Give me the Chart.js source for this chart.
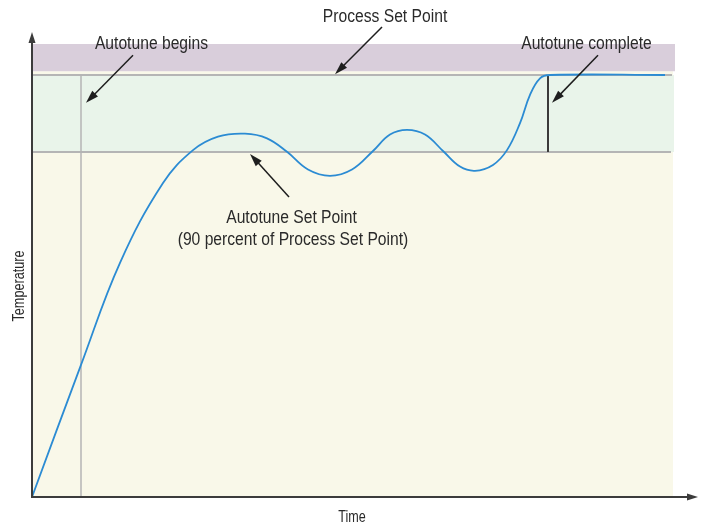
<!DOCTYPE html>
<html>
<head>
<meta charset="utf-8">
<script src="https://cdn.jsdelivr.net/npm/chart.js@4"></script>
<style>
  html, body { margin: 0; padding: 0; background: #ffffff; }
  #wrap { width: 701px; height: 523px; }
</style>
</head>
<body>
<div id="wrap"><canvas id="c" width="701" height="523"></canvas></div>
<script>
// ---- data (time units / temperature as % of process set point) ----
const curveTime = [0, 49, 88, 131, 161, 186, 213, 235, 255, 276, 298, 320, 341, 358, 375, 393, 411, 428, 443, 461, 475, 488, 498, 508, 518, 633];
const curveTemp = [0, 31.3, 55.5, 74.4, 82.2, 85.4, 86.1, 85.0, 81.8, 77.6, 76.1, 77.6, 82.0, 85.9, 87.0, 85.9, 82.0, 78.3, 77.3, 78.7, 82.2, 88.6, 95.3, 99.2, 100, 100];
const processSetPoint = 100;
const autotuneSetPoint = 81.75;
const autotuneBeginTime = 49;
const autotuneCompleteTime = 516;
const timeMax = 641;
const tempMax = 107.35;
const upperBandTop = 107.35;
const upperBandBottom = 100.9;

const labelTexts = ["Process Set Point", "Autotune begins", "Autotune complete", "Autotune Set Point", "(90 percent of Process Set Point)"];
const axisTitles = ["Time", "Temperature"];
// arrows: [tailTime, tailTemp, tipTime, tipTemp]
const arrowSpecs = [
  [350, 111.4, 303, 100.2],
  [101, 104.7, 54, 93.4],
  [566, 104.7, 520, 93.4],
  [257, 71.1, 218, 81.3]
];
// label anchors: [time, temp]
const labelAnchors = [
  [353, 112.6],
  [119.5, 106.1],
  [554.5, 106.1],
  [259.5, 64.9],
  [261, 59.7]
];

const FONT = "'Liberation Sans', Arial, sans-serif";

const curvePts = curveTime.map((t, i) => ({ x: t, y: curveTemp[i] }));

function drawArrowHead(ctx, x1, y1, x2, y2, len, half) {
  const a = Math.atan2(y2 - y1, x2 - x1);
  ctx.beginPath();
  ctx.moveTo(x2, y2);
  ctx.lineTo(x2 - len * Math.cos(a) + half * Math.sin(a), y2 - len * Math.sin(a) - half * Math.cos(a));
  ctx.lineTo(x2 - len * Math.cos(a) - half * Math.sin(a), y2 - len * Math.sin(a) + half * Math.cos(a));
  ctx.closePath();
  ctx.fill();
}

function narrowText(ctx, text, x, y, squeeze) {
  ctx.save();
  ctx.translate(x, y);
  ctx.scale(squeeze, 1);
  ctx.fillText(text, 0, 0);
  ctx.restore();
}

const decor = {
  id: 'decor',
  beforeDatasetsDraw(chart) {
    const { ctx } = chart;
    const xs = chart.scales.x, ys = chart.scales.y;
    const X = v => xs.getPixelForValue(v), Y = v => ys.getPixelForValue(v);
    ctx.save();
    ctx.fillStyle = '#f9f8e9';
    ctx.fillRect(X(0), Y(upperBandBottom), X(timeMax) - X(0), Y(0) - Y(upperBandBottom));
    ctx.fillStyle = '#d9cedb';
    ctx.fillRect(X(0) + 1, Y(upperBandTop), X(timeMax) + 2 - X(0) - 1, Y(upperBandBottom) - Y(upperBandTop));
    ctx.fillStyle = '#e9f4ea';
    ctx.fillRect(X(0), Y(processSetPoint), X(timeMax) + 1 - X(0), Y(autotuneSetPoint) - Y(processSetPoint));
    ctx.restore();
  },
  afterDatasetsDraw(chart) {
    const { ctx } = chart;
    const xs = chart.scales.x, ys = chart.scales.y;
    const X = v => xs.getPixelForValue(v), Y = v => ys.getPixelForValue(v);
    ctx.save();
    ctx.strokeStyle = '#3c3c3c';
    ctx.fillStyle = '#3c3c3c';
    ctx.lineWidth = 2;
    const ox = X(0), oy = Y(0);
    ctx.beginPath();
    ctx.moveTo(ox, oy + 1);
    ctx.lineTo(ox, 40);
    ctx.stroke();
    drawArrowHead(ctx, ox, oy, ox, 32, 11, 3.5);
    ctx.beginPath();
    ctx.moveTo(ox - 1, oy);
    ctx.lineTo(690, oy);
    ctx.stroke();
    drawArrowHead(ctx, ox, oy, 698, oy, 11, 3.5);

    ctx.strokeStyle = '#1e1e1e';
    ctx.fillStyle = '#1e1e1e';
    ctx.lineWidth = 1.5;
    arrowSpecs.forEach(a => {
      const x1 = X(a[0]), y1 = Y(a[1]), x2 = X(a[2]), y2 = Y(a[3]);
      const ang = Math.atan2(y2 - y1, x2 - x1);
      ctx.beginPath();
      ctx.moveTo(x1, y1);
      ctx.lineTo(x2 - 8 * Math.cos(ang), y2 - 8 * Math.sin(ang));
      ctx.stroke();
      drawArrowHead(ctx, x1, y1, x2, y2, 13, 4);
    });

    ctx.fillStyle = '#2a2a2a';
    ctx.font = '18px ' + FONT;
    ctx.textAlign = 'center';
    ctx.textBaseline = 'alphabetic';
    labelTexts.forEach((t, i) => {
      narrowText(ctx, t, X(labelAnchors[i][0]), Y(labelAnchors[i][1]), 0.87);
    });

    ctx.font = '17px ' + FONT;
    narrowText(ctx, axisTitles[0], 352, 521.5, 0.74);
    ctx.font = '16px ' + FONT;
    ctx.save();
    ctx.translate(24, 286);
    ctx.rotate(-Math.PI / 2);
    narrowText(ctx, axisTitles[1], 0, 0, 0.79);
    ctx.restore();
    ctx.restore();
  }
};

new Chart(document.getElementById('c'), {
  type: 'line',
  data: {
    datasets: [
      {
        data: curvePts,
        borderColor: '#2b8bd3',
        borderWidth: 1.8,
        pointRadius: 0,
        tension: 0.4,
        fill: false
      },
      {
        data: [{ x: autotuneCompleteTime, y: autotuneSetPoint }, { x: autotuneCompleteTime, y: processSetPoint }],
        borderColor: '#3a3a3a', borderWidth: 2, pointRadius: 0, fill: false
      },
      {
        data: [{ x: autotuneBeginTime, y: 0 }, { x: autotuneBeginTime, y: processSetPoint }],
        borderColor: '#b5b5b5', borderWidth: 1.5, pointRadius: 0, fill: false
      },
      {
        data: [{ x: 0, y: processSetPoint }, { x: 640, y: processSetPoint }],
        borderColor: '#b5b5b5', borderWidth: 2, pointRadius: 0, fill: false
      },
      {
        data: [{ x: 0, y: autotuneSetPoint }, { x: 639, y: autotuneSetPoint }],
        borderColor: '#b5b5b5', borderWidth: 2, pointRadius: 0, fill: false
      }
    ]
  },
  options: {
    responsive: false,
    animation: false,
    devicePixelRatio: 1,
    layout: { padding: { left: 32, right: 28, top: 44, bottom: 26 } },
    plugins: { legend: { display: false }, tooltip: { enabled: false } },
    scales: {
      x: { type: 'linear', min: 0, max: timeMax, display: false },
      y: { type: 'linear', min: 0, max: tempMax, display: false }
    }
  },
  plugins: [decor]
});
</script>
</body>
</html>
